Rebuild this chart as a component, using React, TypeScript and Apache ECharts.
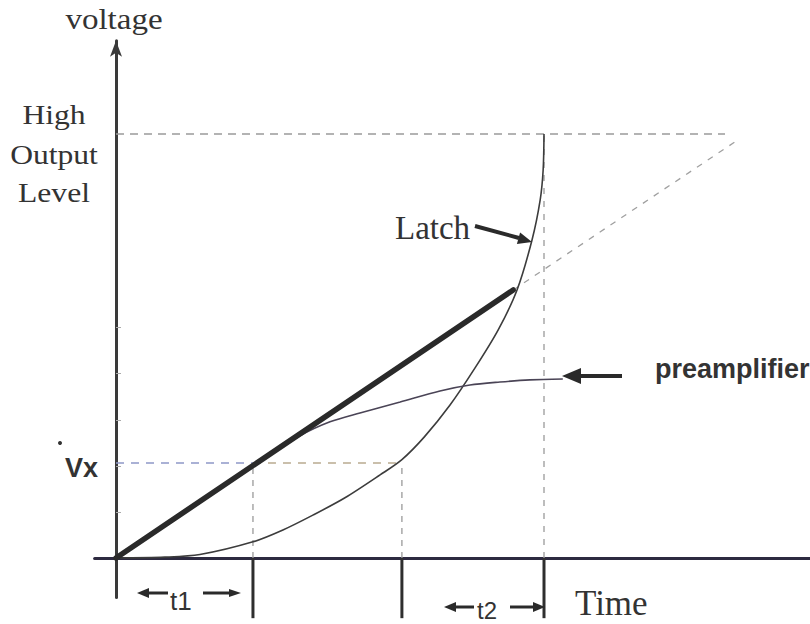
import React, { useEffect, useRef } from "react";
import * as echarts from "echarts";

// Time marks: end of t1, start of t2, end of t2
const timeMarks = [32, 66.8, 100];
const vxLevel = 22.4;
const highLevel = 100;
const highLevelEnd = 142.3;
const markerDepth = -14.2;

const linearRamp = [
  [0, 0],
  [92.8, 63.2],
];
const linearExtension = [
  [92.8, 63.2],
  [145.3, 98.6],
];
const latchCurve = [
  [0, 0],
  [11.4, 0.2],
  [19.6, 0.8],
  [32, 3.8],
  [39, 6.6],
  [46, 10.1],
  [53.5, 14.2],
  [61.7, 19.6],
  [66.8, 23.2],
  [72, 28.5],
  [78, 36],
  [84, 45],
  [89.3, 53.8],
  [93.7, 63.2],
  [97.2, 75],
  [99.1, 84.4],
  [99.8, 91.5],
  [100, 100],
];
const preampCurve = [
  [0, 0],
  [19.6, 13],
  [33.6, 22.6],
  [43, 28.8],
  [50, 32.1],
  [57, 34.2],
  [66.4, 36.8],
  [75.7, 39.4],
  [82.7, 40.8],
  [89.7, 41.5],
  [96.7, 42],
  [104.4, 42.2],
];
const yTickValues = [10.8, 21.7, 32.5, 43.6, 54.5];

const X_MIN = -5;
const X_MAX = 162;
const Y_MIN = -9.3;
const Y_MAX = 122;

const DASH_GRAY = "#9a9a9a";
const INK = "#333333";

function lineSeries(data: number[][], style: any, extra: any = {}) {
  return {
    type: "line",
    data,
    showSymbol: false,
    symbol: "none",
    silent: true,
    lineStyle: style,
    z: 3,
    ...extra,
  };
}

export default function App() {
  const ref = useRef<HTMLDivElement>(null);

  useEffect(() => {
    document.body.style.margin = "0";
    if (!ref.current) return;
    const chart = echarts.init(ref.current, undefined, { renderer: "svg" });

    const dashed = { color: DASH_GRAY, width: 1.3, type: [8, 6] };

    const series: any[] = [
      lineSeries([[0, highLevel], [highLevelEnd, highLevel]], dashed),
      lineSeries([[timeMarks[2], 0], [timeMarks[2], highLevel]], { ...dashed, type: [6, 7] }),
      lineSeries(linearExtension, { color: "#a0a0a0", width: 1.3, type: [6, 7] }),
      lineSeries([[0, vxLevel], [timeMarks[0], vxLevel]], { color: "#8e98c8", width: 1.5, type: [8, 7] }),
      lineSeries([[timeMarks[0], vxLevel], [timeMarks[1], vxLevel]], { color: "#b9aa90", width: 1.5, type: [8, 7] }),
      lineSeries([[timeMarks[0], 0], [timeMarks[0], vxLevel]], { ...dashed, type: [6, 6] }),
      lineSeries([[timeMarks[1], 0], [timeMarks[1], vxLevel]], { ...dashed, type: [6, 6] }),
      ...timeMarks.map((t) =>
        lineSeries([[t, 0], [t, markerDepth]], { color: "#2f2f2f", width: 3 }, { clip: false })
      ),
      lineSeries(linearRamp, { color: "#2a2a2a", width: 5.5, cap: "round" }, { z: 5 }),
      lineSeries(latchCurve, { color: "#3c3c3c", width: 1.6 }, { smooth: 0.3, z: 4 }),
      lineSeries(preampCurve, { color: "#4a4456", width: 1.6 }, { smooth: 0.3, z: 4 }),
    ];

    const serif = '"Liberation Serif", "Times New Roman", serif';
    const sans = '"Liberation Sans", Arial, sans-serif';

    const text = (t: string, x: number, y: number, font: string, align = "left", scaleX = 1) => ({
      type: "text",
      x,
      y,
      scaleX,
      silent: true,
      style: { text: t, font, fill: INK, align, verticalAlign: "middle" },
      z: 10,
    });

    const hArrow = (x1: number, x2: number, y: number, w: number, head: number, half: number) => {
      const dir = x2 > x1 ? 1 : -1;
      const base = x2 - dir * head;
      return [
        {
          type: "line",
          silent: true,
          shape: { x1, y1: y, x2: base, y2: y },
          style: { stroke: "#2a2a2a", lineWidth: w },
          z: 10,
        },
        {
          type: "polygon",
          silent: true,
          shape: { points: [[x2, y], [base, y - half], [base, y + half]] },
          style: { fill: "#2a2a2a" },
          z: 10,
        },
      ];
    };

    const graphic: any[] = [
      text("voltage", 114, 19, `29px ${serif}`, "center", 1.14),
      text("High", 54, 115, `27px ${serif}`, "center", 1.17),
      text("Output", 54, 155, `27px ${serif}`, "center", 1.17),
      text("Level", 54, 193, `27px ${serif}`, "center", 1.17),
      text("Latch", 395, 228, `33px ${serif}`),
      text("Time", 575, 603, `35px ${serif}`),
      text("preamplifier", 655, 369, `bold 27px ${sans}`),
      text("Vx", 65, 468, `bold 27px ${sans}`),
      text("t1", 170, 601, `26px ${sans}`),
      text("t2", 477, 610, `24px ${sans}`),
      {
        type: "line",
        silent: true,
        shape: { x1: 475, y1: 226, x2: 519, y2: 238 },
        style: { stroke: "#2a2a2a", lineWidth: 4 },
        z: 10,
      },
      {
        type: "polygon",
        silent: true,
        shape: { points: [[532, 242], [516.9, 244], [520.1, 232.4]] },
        style: { fill: "#2a2a2a" },
        z: 10,
      },
      ...hArrow(622, 562, 376, 4, 19, 8),
      ...hArrow(168, 137, 593, 3, 12, 5),
      ...hArrow(203, 241, 593, 3, 12, 4),
      ...hArrow(474, 444, 607, 3, 12, 5),
      ...hArrow(510, 545, 607, 3, 12, 5),
      { type: "circle", silent: true, shape: { cx: 60, cy: 443, r: 2 }, style: { fill: "#333" } },
    ];

    chart.setOption({
      animation: false,
      backgroundColor: "#ffffff",
      grid: { left: 94.6, right: 0.64, top: 40.7, bottom: 26.6, containLabel: false },
      xAxis: {
        type: "value",
        min: X_MIN,
        max: X_MAX,
        axisLine: { show: true, onZero: true, lineStyle: { color: "#2d2a40", width: 3 } },
        axisTick: { show: false },
        axisLabel: { show: false },
        splitLine: { show: false },
      },
      yAxis: {
        type: "value",
        min: Y_MIN,
        max: Y_MAX,
        axisLine: {
          show: true,
          onZero: true,
          symbol: ["none", "arrow"],
          symbolSize: [9, 16],
          lineStyle: { color: "#3a3a3a", width: 3 },
        },
        axisTick: {
          show: true,
          inside: true,
          length: 5,
          customValues: yTickValues,
          lineStyle: { color: "#aaaaaa", width: 1 },
        },
        axisLabel: { show: false },
        splitLine: { show: false },
      },
      series,
      graphic,
    });

    return () => chart.dispose();
  }, []);

  return <div ref={ref} style={{ width: 810, height: 624 }} />;
}
